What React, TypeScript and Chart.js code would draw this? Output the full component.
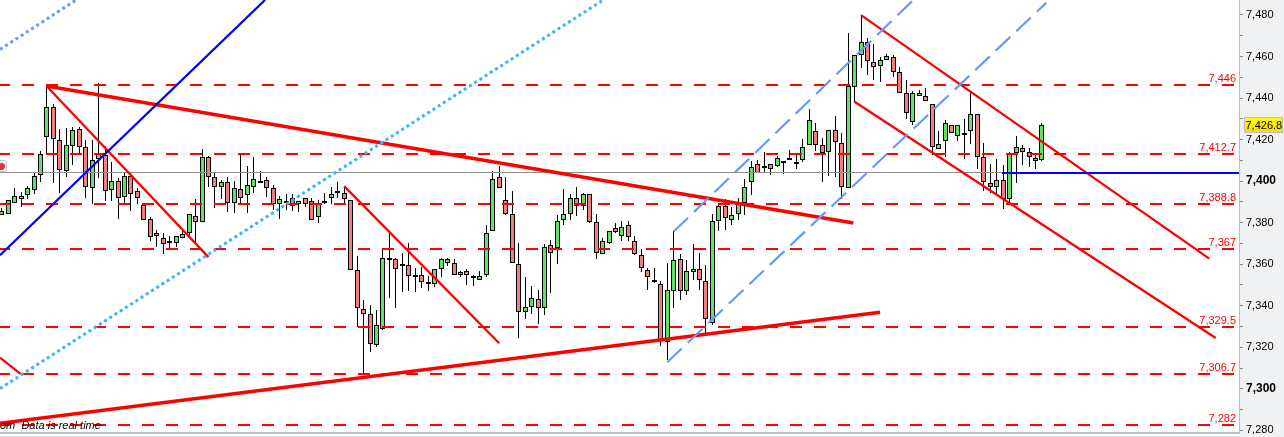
import React, { useEffect, useRef } from "react";
import { Chart, registerables } from "chart.js";

Chart.register(...registerables);

const opens = [
  7383.8,7384.0,7389.7,7391.2,7393.1,7395.5,7402.8,7421.1,7435.5,7419.6,
  7404.7,7416.7,7424.9,7416.2,7396.5,7410.5,7412.4,7395.5,7399.9,7392.2,
  7402.3,7395.0,7388.3,7381.6,7374.8,7372.4,7370.5,7370.0,7372.4,7374.8,
  7383.0,7380.1,7411.4,7401.8,7397.0,7399.4,7389.7,7396.0,7393.1,7397.4,
  7400.2,7400.3,7396.5,7389.2,7390.5,7391.7,7389.2,7391.7,7390.2,7382.5,
  7390.5,7391.7,7395.3,7394.1,7390.7,7357.4,7338.2,7336.2,7321.3,7329.0,
  7363.2,7362.7,7358.9,7359.4,7354.7,7355.0,7351.5,7350.7,7357.9,7360.8,
  7360.8,7356.0,7356.5,7354.1,7352.6,7355.0,7376.2,7402.2,7390.7,7384.4,
  7360.3,7337.2,7339.6,7343.0,7338.7,7369.0,7367.6,7381.5,7384.4,7391.7,
  7387.8,7393.6,7380.1,7364.7,7370.0,7377.2,7373.8,7379.1,7371.4,7364.2,
  7357.0,7352.5,7350.7,7322.3,7346.9,7362.3,7346.9,7356.0,7357.5,7351.7,
  7331.9,7380.6,7387.8,7381.5,7384.0,7389.3,7399.4,7408.0,7406.1,7408.0,
  7407.1,7409.5,7410.9,7409.3,7410.0,7417.2,7424.0,7417.2,7413.8,7424.4,
  7418.2,7396.5,7445.1,7460.6,7466.8,7457.2,7455.3,7458.2,7459.6,7452.4,
  7442.3,7428.3,7440.8,7440.8,7437.0,7415.3,7419.1,7426.8,7421.5,7423.3,
  7423.9,7432.2,7411.4,7398.9,7397.4,7400.3,7391.2,7413.4,7415.8,7413.8,
  7410.9,7410.0,
];
const closes = [
  7385.4,7390.7,7392.6,7392.6,7396.5,7402.3,7412.9,7435.5,7420.1,7405.2,
  7417.2,7424.4,7416.2,7397.0,7410.0,7413.4,7395.0,7399.9,7391.7,7402.3,
  7393.6,7391.7,7381.1,7372.9,7373.4,7369.5,7371.4,7373.8,7374.3,7384.4,
  7380.1,7411.4,7401.8,7397.0,7399.4,7389.7,7396.5,7391.7,7397.9,7400.8,
  7400.2,7396.5,7388.8,7391.2,7390.5,7387.8,7390.2,7388.8,7381.5,7389.2,
  7390.5,7393.6,7395.3,7391.2,7357.4,7338.7,7335.8,7321.8,7330.5,7363.2,
  7363.2,7357.9,7359.9,7354.1,7354.7,7351.2,7351.5,7357.9,7362.3,7362.3,
  7355.0,7355.0,7355.0,7354.1,7354.1,7374.8,7400.8,7396.9,7384.4,7360.8,
  7337.2,7339.6,7343.5,7338.7,7368.5,7365.6,7381.0,7384.4,7392.1,7387.8,
  7393.6,7380.1,7365.6,7371.4,7375.8,7375.3,7377.7,7372.9,7364.7,7358.0,
  7353.6,7352.5,7323.3,7347.4,7361.8,7346.9,7356.5,7357.5,7352.2,7333.4,
  7380.6,7387.8,7382.0,7383.5,7388.8,7397.4,7406.6,7403.7,7407.1,7405.6,
  7410.9,7409.5,7410.9,7409.3,7416.2,7429.2,7417.2,7413.3,7424.4,7418.6,
  7397.0,7445.6,7460.6,7466.8,7457.7,7454.8,7458.2,7460.1,7452.4,7442.3,
  7432.6,7442.3,7442.3,7438.4,7416.3,7417.7,7427.8,7423.0,7426.8,7423.3,
  7432.2,7411.4,7399.4,7397.4,7400.3,7391.2,7413.4,7416.2,7413.8,7411.4,
  7409.5,7426.8,
];
const highs = [
  7386.9,7390.7,7396.5,7394.7,7397.5,7403.7,7414.3,7446.3,7437.0,7424.9,
  7425.4,7425.9,7425.9,7419.6,7419.6,7447.1,7416.7,7409.0,7401.3,7404.2,
  7403.7,7396.5,7388.3,7382.5,7376.3,7374.8,7373.8,7373.8,7376.3,7384.4,
  7391.2,7415.3,7411.9,7403.7,7400.5,7401.8,7399.9,7412.9,7407.1,7411.4,
  7404.7,7401.8,7397.9,7392.6,7393.6,7393.6,7390.2,7391.7,7391.7,7390.7,
  7394.4,7397.4,7399.4,7396.5,7390.7,7363.9,7342.7,7340.3,7337.9,7367.6,
  7375.3,7363.2,7365.2,7370.0,7358.4,7358.7,7354.5,7357.9,7363.2,7363.2,
  7362.3,7356.9,7357.9,7355.0,7356.5,7379.1,7404.7,7407.5,7402.2,7395.0,
  7370.0,7353.6,7349.4,7347.5,7369.5,7371.6,7383.5,7396.0,7393.6,7397.0,
  7394.5,7393.6,7384.0,7372.4,7375.8,7379.6,7380.6,7380.6,7373.8,7367.1,
  7358.4,7358.4,7352.1,7360.8,7375.8,7364.9,7361.8,7369.5,7365.2,7359.4,
  7384.0,7389.7,7391.2,7387.3,7391.7,7400.8,7409.5,7410.0,7413.8,7408.0,
  7411.9,7409.5,7414.8,7413.3,7420.1,7434.5,7427.8,7420.6,7424.4,7431.2,
  7423.0,7471.2,7460.6,7479.8,7468.8,7465.9,7459.6,7461.0,7460.6,7454.8,
  7448.5,7443.2,7443.7,7444.7,7437.0,7423.9,7429.2,7426.8,7426.8,7429.7,
  7443.2,7432.2,7418.2,7408.0,7410.5,7407.6,7413.8,7421.5,7417.2,7415.8,
  7412.9,7427.8,
];
const lows = [
  7383.8,7384.0,7389.3,7387.3,7391.2,7393.6,7399.4,7413.4,7398.9,7394.1,
  7402.1,7407.7,7413.4,7391.7,7388.8,7401.3,7390.5,7390.5,7381.6,7389.3,
  7385.4,7388.8,7381.1,7371.0,7368.5,7364.7,7367.6,7368.4,7372.4,7372.4,
  7370.0,7380.1,7397.0,7386.9,7391.2,7385.2,7384.8,7389.2,7384.8,7394.5,
  7399.4,7392.5,7386.2,7381.9,7386.2,7385.7,7385.2,7387.6,7381.5,7379.9,
  7389.2,7389.2,7392.1,7389.2,7357.4,7329.8,7307.3,7317.8,7320.2,7328.1,
  7343.5,7339.0,7346.7,7347.3,7346.4,7348.3,7347.3,7349.2,7353.6,7359.2,
  7355.0,7353.6,7350.2,7349.7,7352.6,7353.9,7376.2,7396.9,7383.5,7360.8,
  7324.7,7333.8,7335.8,7331.0,7335.3,7345.9,7360.3,7379.1,7381.5,7383.0,
  7386.3,7379.6,7362.3,7364.7,7369.5,7374.8,7371.4,7371.4,7364.2,7356.0,
  7347.5,7351.0,7320.5,7314.1,7338.8,7342.7,7345.4,7352.2,7347.8,7326.6,
  7330.5,7375.8,7376.7,7379.1,7381.1,7383.6,7393.1,7403.7,7403.7,7402.9,
  7406.6,7403.2,7410.9,7406.0,7409.0,7417.2,7414.3,7399.7,7402.3,7402.0,
  7391.2,7396.5,7437.9,7454.3,7450.9,7448.5,7447.6,7458.2,7450.0,7442.3,
  7429.7,7426.8,7440.8,7438.4,7412.4,7415.3,7411.4,7423.0,7419.1,7410.5,
  7417.7,7405.6,7395.4,7394.1,7393.1,7386.4,7389.3,7398.9,7407.6,7406.6,
  7406.0,7409.5,
];

const tickValues = [
  7280,7290,7300,7310,7320,7330,7340,7350,7360,7370,7380,
  7390,7400,7410,7420,7430,7440,7450,7460,7470,7480,
];
const levels = [7446, 7412.7, 7388.8, 7367, 7329.5, 7306.7, 7282.5];
const levelLabels = ["7,446", "7,412.7", "7,388.8", "7,367", "7,329.5", "7,306.7", "7,282"];
const lastPrice = 7426.8;
const lastPriceLabel = "7,426.8";
const footerText = "om  Data is real time";

// [startIndex, startPrice, endIndex, endPrice]
const blueTrend = [-0.17, 7364.3, 40.85, 7487.2];
const cyanDotted = [-0.17, 7300.1, 93.2, 7487.2];
const topDotted = [-0.17, 7463.4, 11.6, 7487.2];
const thickFalling = [7.03, 7445.8, 131.9, 7379.8];
const thickRising = [-0.17, 7283.4, 136.05, 7336.9];
const thinFallingA = [7.03, 7445.8, 32.1, 7363.4];
const thinFallingB = [53.1, 7397.6, 77.1, 7321.9];
const thinFallingC = [-0.17, 7315.0, 3.0, 7307.2];
const channelUpHigh = [104.1, 7375.7, 141.2, 7487.2];
const channelUpLow = [103.1, 7312.8, 161.75, 7485.8];
const channelDownHigh = [133.1, 7479.9, 187.0, 7362.7];
const channelDownLow = [132.1, 7438.2, 188.0, 7324.5];
const pivotBlue = [154.9, 7403.6, 191.6, 7403.6];
const pivotGray = [-0.17, 7404, 154.9, 7404];

const X_MIN = -0.17;
const X_MAX = 191.6;
const Y_MIN = 7279.2;
const Y_MAX = 7487.2;
const LEVEL_END = 190.85;

const GREEN = "#62e262";
const RED = "#f07f7f";
const FONT = "'Liberation Sans', Arial, sans-serif";

const seg = (s: number[]) => [
  { x: s[0], y: s[1] },
  { x: s[2], y: s[3] },
];

const line = (s: number[], color: string, width: number, dash: number[] = [], offset = 0, order = 2) => ({
  type: "line" as const,
  data: seg(s),
  borderColor: color,
  borderWidth: width,
  borderDash: dash,
  borderDashOffset: offset,
  pointRadius: 0,
  tension: 0,
  fill: false,
  order,
});

const snapMarks = {
  id: "snapMarks",
  beforeDatasetsDraw(chart: any) {
    chart.data.datasets.forEach((ds: any, i: number) => {
      const meta = chart.getDatasetMeta(i);
      if (ds.type === "bar") {
        meta.data.forEach((el: any) => {
          el.x = Math.floor(el.x + 0.65) + 0.5;
          const top = Math.round(Math.min(el.y, el.base));
          let bottom = Math.round(Math.max(el.y, el.base));
          if (bottom - top < 2) bottom = top + 2;
          el.y = top;
          el.base = bottom;
          el.height = bottom - top;
        });
      } else if (ds.data[0].y === ds.data[1].y) {
        const py = Math.floor(meta.data[0].y) + (ds.borderWidth % 2 ? 0.5 : 0);
        meta.data.forEach((el: any) => (el.y = py));
      }
    });
  },
};

const panels = {
  id: "panels",
  beforeDraw(chart: any) {
    const { ctx, chartArea, width, height } = chart;
    ctx.save();
    ctx.fillStyle = "#f0f1f3";
    ctx.fillRect(chartArea.right, 0, width - chartArea.right, height);
    ctx.fillStyle = "#b7bfc6";
    ctx.fillRect(0, chartArea.bottom, chartArea.right + 1, 2);
    ctx.fillStyle = "#dfe2e5";
    ctx.fillRect(0, 436, chartArea.right + 1, 1);
    ctx.restore();
  },
  afterDraw(chart: any) {
    const { ctx, scales } = chart;
    const y = scales.y;
    ctx.save();
    ctx.fillStyle = "#ff0000";
    ctx.font = `11px ${FONT}`;
    ctx.textAlign = "right";
    ctx.textBaseline = "middle";
    levels.forEach((lv, i) => {
      ctx.fillText(levelLabels[i], 1236, Math.floor(y.getPixelForValue(lv)) - 6);
    });
    const py = y.getPixelForValue(lastPrice);
    const grad = ctx.createLinearGradient(0, py - 8, 0, py + 8);
    grad.addColorStop(0, "#ffff00");
    grad.addColorStop(1, "#ffd400");
    ctx.fillStyle = grad;
    ctx.fillRect(1244.5, Math.round(py) - 7.5, 38, 15);
    ctx.strokeStyle = "#b7bfc6";
    ctx.lineWidth = 1;
    ctx.strokeRect(1244.5, Math.round(py) - 7.5, 38, 15);
    ctx.fillStyle = "#000";
    ctx.textAlign = "left";
    ctx.fillText(lastPriceLabel, 1245.5, Math.round(py) + 0.5);
    ctx.font = `italic 11px ${FONT}`;
    ctx.fillText(footerText, 0, 426);
    ctx.fillStyle = "#f1f3f6";
    ctx.strokeStyle = "#bcd0e0";
    ctx.beginPath();
    ctx.roundRect(-4, 160.5, 10.5, 11, 2);
    ctx.fill();
    ctx.stroke();
    ctx.fillStyle = "#e0303a";
    ctx.beginPath();
    ctx.arc(1.5, 166.5, 3.4, 0, Math.PI * 2);
    ctx.fill();
    ctx.restore();
  },
};

export default function App() {
  const ref = useRef<HTMLCanvasElement>(null);
  useEffect(() => {
    document.body.style.margin = "0";
    document.body.style.background = "#fff";
    const colors = opens.map((o, i) =>
      o === closes[i] ? "#000" : closes[i] > o ? GREEN : RED
    );
    const chart = new Chart(ref.current as HTMLCanvasElement, {
      type: "bar",
      data: {
        datasets: [
          {
            type: "bar",
            data: opens.map((_, i) => ({ x: i, y: [lows[i], highs[i]] })),
            backgroundColor: "#000",
            borderWidth: 0,
            barThickness: 1,
            grouped: false,
            inflateAmount: 0,
            order: 20,
          },
          {
            type: "bar",
            data: opens.map((o, i) => ({ x: i, y: [o, closes[i]] })),
            backgroundColor: colors,
            borderColor: "#000",
            borderWidth: 1,
            borderSkipped: false,
            barThickness: 5,
            grouped: false,
            inflateAmount: 0,
            order: 10,
          },
          line(pivotGray, "#909090", 1, [], 0, 9),
          ...levels.map((lv) => line([X_MIN, lv, LEVEL_END, lv], "#ff0000", 2, [12, 12], 2, 8)),
          line(pivotBlue, "#0000ff", 2),
          line(blueTrend, "#0000ff", 2.3),
          line(cyanDotted, "#33b5ff", 3, [3, 3.2]),
          line(topDotted, "#6699ff", 3, [3, 3.2]),
          line(channelUpHigh, "#6699ff", 2.2, [20, 8.3]),
          line(channelUpLow, "#6699ff", 2.2, [20, 8.3]),
          line(thickFalling, "#ff0000", 3.5),
          line(thickRising, "#ff0000", 3.5),
          line(thinFallingA, "#ff0000", 2.3),
          line(thinFallingB, "#ff0000", 2.3),
          line(thinFallingC, "#ff0000", 2.3),
          line(channelDownHigh, "#ff0000", 2.3),
          line(channelDownLow, "#ff0000", 2.3),
        ] as any,
      },
      options: {
        responsive: false,
        animation: false,
        devicePixelRatio: 1,
        layout: { padding: { bottom: 5, left: 0, right: 0, top: 0 } },
        plugins: { legend: { display: false }, tooltip: { enabled: false } },
        scales: {
          x: { type: "linear", min: X_MIN, max: X_MAX, display: false, offset: false },
          y: {
            type: "linear",
            position: "right",
            min: Y_MIN,
            max: Y_MAX,
            afterFit(s: any) {
              s.width = 45;
              s.paddingTop = 0;
              s.paddingBottom = 0;
            },
            afterBuildTicks(a: any) {
              a.ticks = tickValues.map((v) => ({ value: v }));
            },
            ticks: {
              autoSkip: false,
              padding: 3,
              color: "#000",
              font: (c: any) =>
                c.tick && c.tick.value % 100 === 0
                  ? { family: FONT, size: 12, weight: "bold" }
                  : { family: FONT, size: 11, weight: "normal" },
              callback: (v: any) => (v % 20 === 0 ? Number(v).toLocaleString("en-US") : ""),
            },
            grid: { drawOnChartArea: false, tickLength: 4, tickColor: "#808890" },
            border: { color: "#b7bfc6", width: 1 },
          },
        },
      } as any,
      plugins: [panels, snapMarks],
    });
    return () => chart.destroy();
  }, []);
  return <canvas ref={ref} width={1284} height={437} style={{ display: "block" }} />;
}
